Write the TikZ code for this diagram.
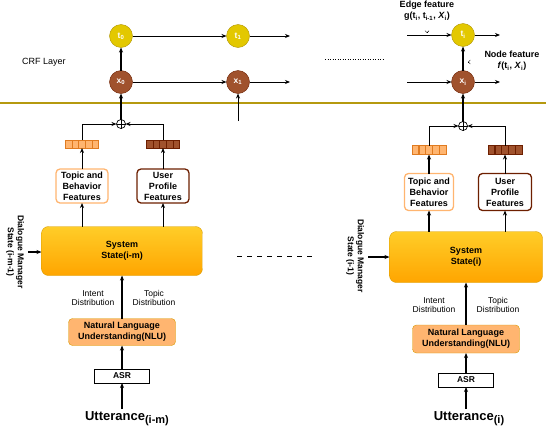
\documentclass[tikz,border=0pt]{standalone}
\usepackage{fontspec}
\setmainfont{Liberation Sans}
\usetikzlibrary{arrows.meta}

\definecolor{tyellow}{HTML}{E3C800}
\definecolor{tyellowdark}{HTML}{B09500}
\definecolor{xbrown}{HTML}{A0522D}
\definecolor{xbrowndark}{HTML}{6D1F00}
\definecolor{crfline}{HTML}{B5990F}
\definecolor{lightorange}{HTML}{FFB570}
\definecolor{celledge}{HTML}{E07B20}
\definecolor{darkorange}{HTML}{D79B00}
\definecolor{stateTop}{HTML}{FFCD28}
\definecolor{stateBottom}{HTML}{FFA500}

\begin{document}
\begin{tikzpicture}[x=1pt, y=-1pt,
  every node/.style={inner sep=0pt, outer sep=0pt, align=center},
  tcirc/.style={circle, draw=tyellowdark, fill=tyellow, minimum size=23pt, text=white, font=\fontsize{8.5}{9}\selectfont\bfseries},
  xcirc/.style={circle, draw=xbrowndark, fill=xbrown, minimum size=23pt, text=white, font=\fontsize{8.5}{9}\selectfont\bfseries},
  addnode/.style={circle, draw, fill=white, minimum size=9pt, line width=0.7pt},
  ocell/.style={draw=celledge, fill=lightorange, minimum width=6.6pt, minimum height=8pt, line width=0.8pt},
  bcell/.style={draw=xbrowndark, fill=xbrown, minimum width=6.6pt, minimum height=8pt, line width=0.8pt},
  topicbox/.style={draw=lightorange, line width=1.3pt, rounded corners=4pt, fill=white, minimum width=52pt, minimum height=34pt, font=\fontsize{9}{11}\selectfont\bfseries},
  userbox/.style={topicbox, draw=xbrowndark},
  statebox/.style={draw=darkorange, rounded corners=7pt, top color=stateTop, bottom color=stateBottom, minimum width=161pt, minimum height=49pt, font=\fontsize{9}{11}\selectfont\bfseries},
  nlubox/.style={draw=darkorange, fill=lightorange, rounded corners=4pt, minimum width=107pt, minimum height=27pt, font=\fontsize{9}{11}\selectfont\bfseries},
  asrbox/.style={draw, line width=0.8pt, minimum width=55pt, minimum height=14pt, font=\fontsize{8.5}{9}\selectfont\bfseries},
  distlabel/.style={font=\fontsize{8.5}{9.5}\selectfont},
  featlabel/.style={font=\fontsize{9}{11}\selectfont\bfseries},
  dmlabel/.style={rotate=-90, font=\fontsize{8.5}{10}\selectfont\bfseries},
  uttlabel/.style={inner sep=2pt, font=\fontsize{13}{14}\selectfont\bfseries},
  arr/.style={-{Stealth[length=5pt, width=4pt]}, line width=1pt},
  thickarr/.style={arr, line width=2pt}]
\useasboundingbox (0,0) rectangle (546,426);

% CRF layer
\node[font=\fontsize{9}{10}\selectfont] (crf) at (44,62) {CRF Layer};
\node[tcirc] (t0) at (121,36) {t\textsubscript{0}};
\node[tcirc] (t1) at (238,36) {t\textsubscript{1}};
\node[xcirc] (x0) at (121,82) {x\textsubscript{0}};
\node[xcirc] (x1) at (238,82) {x\textsubscript{1}};
\coordinate (t1out) at (290,36);
\coordinate (x1out) at (290,82);
\coordinate (x1in) at (238,121);

\node[tcirc] (ti) at (463,35) {t\textsubscript{i}};
\node[xcirc] (xi) at (463,82) {x\textsubscript{i}};
\coordinate (tiin) at (407,35);
\coordinate (tiout) at (500,35);
\coordinate (xiin) at (407,82);
\coordinate (xiout) at (500,82);
\node[featlabel] (edgef) at (427,11) {Edge feature\\g(t\textsubscript{i}, t\textsubscript{i-1}, \textit{X}\textsubscript{i})};
\node[featlabel] (nodef) at (512,61) {Node feature\\\textit{f}(t\textsubscript{i}, \textit{X}\textsubscript{i})};
\coordinate (edgemark) at (427,33);
\coordinate (nodemark) at (468,62);

\coordinate (dots0) at (325,59);
\coordinate (dots1) at (383,59);
\draw[line width=1pt, dash pattern=on 1pt off 1.5pt] (dots0) -- (dots1);

\draw[crfline, line width=2.5pt] (0,103) -- (546,103);

% turn i-m
\node[addnode] (add0) at (121,124) {};
\draw (add0.north) -- (add0.south) (add0.west) -- (add0.east);
\node[ocell] (ob01) at (68.8,144) {};
\node[ocell] (ob02) at (75.4,144) {};
\node[ocell] (ob03) at (82,144) {};
\node[ocell] (ob04) at (88.6,144) {};
\node[ocell] (ob05) at (95.2,144) {};
\node[bcell] (bb01) at (149.8,144) {};
\node[bcell] (bb02) at (156.4,144) {};
\node[bcell] (bb03) at (163,144) {};
\node[bcell] (bb04) at (169.6,144) {};
\node[bcell] (bb05) at (176.2,144) {};
\node[topicbox] (topic0) at (82,186) {Topic and\\Behavior\\Features};
\node[userbox] (user0) at (163,186) {User\\Profile\\Features};
\node[statebox] (sys0) at (122,251) {System\\State(i-m)};
\node[dmlabel] (dm0) at (15,252) {Dialogue Manager\\State (i-m-1)};
\coordinate (dm0in) at (28,252);
\node[distlabel] (intent0) at (93,298) {Intent\\Distribution};
\node[distlabel] (tdist0) at (154,298) {Topic\\Distribution};
\node[nlubox] (nlu0) at (122,332) {Natural Language\\Understanding(NLU)};
\node[asrbox] (asr0) at (122,376) {ASR};
\node[uttlabel, anchor=base] (utt0) at (127,420) {Utterance{\fontsize{11}{11}\selectfont\raisebox{-3pt}{(i-m)}}};

\coordinate (gap0) at (237,256);
\coordinate (gap1) at (312,256);
\draw[dash pattern=on 5pt off 5pt] (gap0) -- (gap1);

% turn i
\node[addnode] (add1) at (463,126) {};
\draw (add1.north) -- (add1.south) (add1.west) -- (add1.east);
\node[ocell, minimum height=9pt] (ob11) at (415.4,150) {};
\node[ocell, minimum height=9pt] (ob12) at (422.2,150) {};
\node[ocell, minimum height=9pt] (ob13) at (429,150) {};
\node[ocell, minimum height=9pt] (ob14) at (435.8,150) {};
\node[ocell, minimum height=9pt] (ob15) at (442.6,150) {};
\node[bcell, minimum height=9pt] (bb11) at (491.4,150) {};
\node[bcell, minimum height=9pt] (bb12) at (498.2,150) {};
\node[bcell, minimum height=9pt] (bb13) at (505,150) {};
\node[bcell, minimum height=9pt] (bb14) at (511.8,150) {};
\node[bcell, minimum height=9pt] (bb15) at (518.6,150) {};
\node[topicbox, minimum width=49pt, minimum height=37pt] (topic1) at (429,192) {Topic and\\Behavior\\Features};
\node[userbox, minimum width=53pt, minimum height=37pt] (user1) at (505,192) {User\\Profile\\Features};
\node[statebox, minimum width=153pt, minimum height=51pt] (sys1) at (466,257) {System\\State(i)};
\node[dmlabel] (dm1) at (355,256) {Dialogue Manager\\State (i-1)};
\coordinate (dm1in) at (368,257);
\node[distlabel] (intent1) at (434,305) {Intent\\Distribution};
\node[distlabel] (tdist1) at (498,305) {Topic\\Distribution};
\node[nlubox, minimum height=28pt] (nlu1) at (466,339) {Natural Language\\Understanding(NLU)};
\node[asrbox] (asr1) at (466,380) {ASR};
\node[uttlabel, anchor=base] (utt1) at (469,420) {Utterance{\fontsize{11}{11}\selectfont\raisebox{-3pt}{(i)}}};

% connectors
\draw[arr] (t0) -- (t1);
\draw[arr] (t1) -- (t1out);
\draw[arr] (x0) -- (x1);
\draw[arr] (x1) -- (x1out);
\draw[thickarr] (x0) -- (t0);
\draw[arr] (x1in) -- (x1);
\draw[arr, line width=1.5pt] (add0) -- (x0);
\draw[arr] (ob03.north) |- (add0);
\draw[arr] (bb03.north) |- (add0);
\draw[arr] (topic0) -- (ob03);
\draw[arr] (user0) -- (bb03);
\draw[arr] (sys0.north -| topic0) -- (topic0);
\draw[arr] (sys0.north -| user0) -- (user0);
\draw[thickarr] (dm0in) -- (dm0in -| sys0.west);
\draw[arr, line width=1.2pt] (nlu0) -- (sys0);
\draw[arr, line width=1.2pt] (asr0) -- (nlu0);
\draw[arr, line width=1.5pt] (utt0.north -| asr0) -- (asr0);

\draw[arr] (tiin) -- (ti);
\draw[arr] (ti) -- (tiout);
\draw[arr] (xiin) -- (xi);
\draw[arr] (xi) -- (xiout);
\draw[thickarr] (xi) -- (ti);
\draw[thickarr] (add1) -- (xi);
\draw[arr] (ob13.north) |- (add1);
\draw[arr] (bb13.north) |- (add1);
\draw[thickarr] (topic1) -- (ob13);
\draw[arr] (user1) -- (bb13);
\draw[thickarr] (sys1.north -| topic1) -- (topic1);
\draw[arr] (sys1.north -| user1) -- (user1);
\draw[thickarr] (dm1in) -- (dm1in -| sys1.west);
\draw[thickarr] (nlu1) -- (sys1);
\draw[thickarr] (asr1) -- (nlu1);
\draw[thickarr] (utt1.north -| asr1) -- (asr1);

% feature pointers
\draw[-{Straight Barb[length=2pt, width=4pt]}] ([yshift=1pt]edgemark) -- (edgemark);
\draw[-{Straight Barb[length=2pt, width=4pt]}] ([xshift=1pt]nodemark) -- (nodemark);
\end{tikzpicture}
\end{document}
